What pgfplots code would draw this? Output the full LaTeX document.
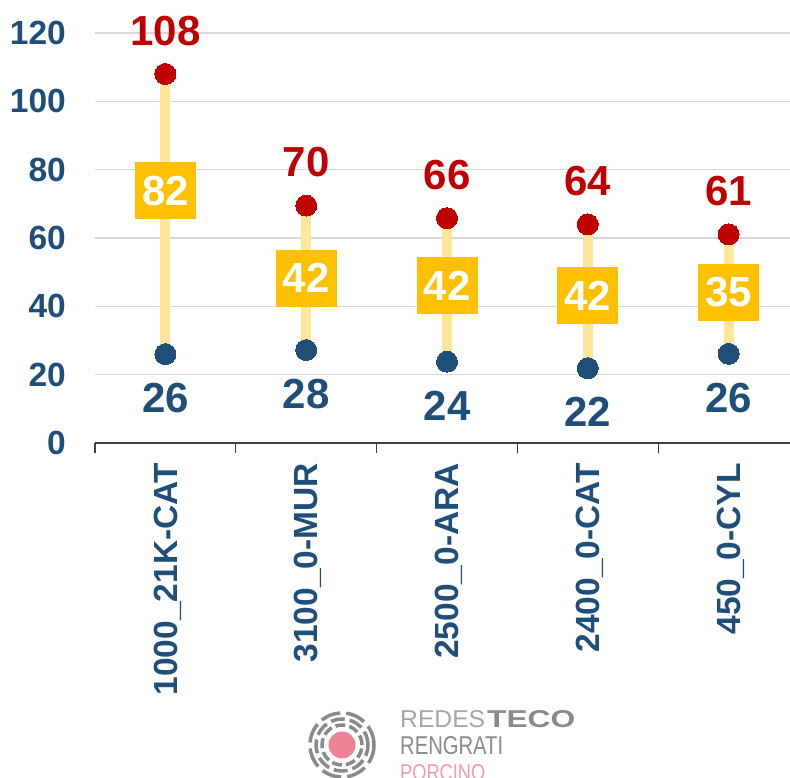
\documentclass[border=0pt]{standalone}
\usepackage{fontspec}
\setmainfont{Liberation Sans}
\usepackage{graphicx}
\usepackage{pgfplots}
\usepackage{pgfplotstable}
\pgfplotsset{compat=1.18}
\definecolor{cblue}{HTML}{1F4E79}
\definecolor{cred}{HTML}{C00000}
\definecolor{cgold}{HTML}{FFC000}
\definecolor{cpale}{HTML}{FFE699}
\definecolor{cgrid}{HTML}{D9D9D9}
\definecolor{caxis}{HTML}{404040}
\definecolor{cpink}{HTML}{EF8394}
\definecolor{clogo}{HTML}{8A8A8A}
\definecolor{clogolight}{HTML}{A6A6A6}
\definecolor{cpinktext}{HTML}{F29BB0}

\pgfplotstableread{
x y label
0 108 108
1 69.5 70
2 65.8 66
3 64.0 64
4 61.1 61
}\maxdata
\pgfplotstableread{
x y label
0 26.0 26
1 27.2 28
2 23.8 24
3 21.9 22
4 26.1 26
}\mindata
\pgfplotstableread{
x y label
0 73.8 82
1 48.2 42
2 46.0 42
3 43.2 42
4 44.1 35
}\diffdata

\newcommand{\bigfont}{\bfseries\fontsize{42}{50}\selectfont}
\newcommand{\tickfont}{\bfseries\fontsize{33.5}{40}\selectfont}

\begin{document}
\begin{tikzpicture}[x=1pt,y=1pt]
\path[use as bounding box] (0,0) rectangle (790,778);
\begin{axis}[
  at={(95pt,335pt)}, anchor=south west,
  width=695pt, height=410pt, scale only axis,
  xmin=-0.5, xmax=4.436, ymin=0, ymax=120,
  clip=false,
  axis x line=bottom, axis y line=left,
  x axis line style={-, caxis, line width=1.2pt},
  y axis line style={draw=none},
  xtick={0,1,2,3,4},
  xticklabels={1000\_21K-CAT, 3100\_0-MUR, 2500\_0-ARA, 2400\_0-CAT, 450\_0-CYL},
  minor xtick={-0.5,0.5,1.5,2.5,3.5},
  major tick length=0pt, minor tick length=10pt, tick align=outside,
  minor tick style={caxis, line width=1.2pt},
  ytick={0,20,40,60,80,100,120},
  ymajorgrids, grid style={cgrid, line width=1.5pt},
  /pgf/number format/assume math mode=true,
  xticklabel style={xshift=9pt, font=\tickfont, text=cblue, rotate=90, anchor=mid east, inner sep=0pt},
  yticklabel style={font=\tickfont, text=cblue, anchor=east, inner sep=0pt},
  xticklabel shift=20pt,
  yticklabel shift=29pt,
]
\addplot[cpale, line width=10pt] coordinates {(0,26.0) (0,108)};
\addplot[cpale, line width=10pt] coordinates {(1,27.2) (1,69.5)};
\addplot[cpale, line width=10pt] coordinates {(2,23.8) (2,65.8)};
\addplot[cpale, line width=10pt] coordinates {(3,21.9) (3,64.0)};
\addplot[cpale, line width=10pt] coordinates {(4,26.1) (4,61.1)};

\addplot[only marks, mark=none, nodes near coords, point meta=explicit symbolic,
  nodes near coords style={anchor=center, fill=cgold, text=white, minimum width=61pt,
  minimum height=57pt, inner sep=0pt, font=\bigfont}]
  table[x=x, y=y, meta=label] {\diffdata};

\addplot[cred, only marks, mark=*, mark size=10.5pt, mark options={fill=cred, draw=none, line width=0pt},
  nodes near coords, point meta=explicit symbolic,
  nodes near coords style={anchor=center, yshift=43pt, text=cred, inner sep=0pt, font=\bigfont}]
  table[x=x, y=y, meta=label] {\maxdata};

\addplot[cblue, only marks, mark=*, mark size=10.5pt, mark options={fill=cblue, draw=none, line width=0pt},
  nodes near coords, point meta=explicit symbolic,
  nodes near coords style={anchor=center, yshift=-44pt, text=cblue, inner sep=0pt, font=\bigfont}]
  table[x=x, y=y, meta=label] {\mindata};
\end{axis}

% logo
\fill[cpink] (342,33) circle (13.5);
\draw[clogo, line width=3.5, dash pattern=on 10pt off 4pt] (342,33) circle (20);
\draw[clogo, line width=3.5, dash pattern=on 14pt off 5pt] (342,33) circle (26);
\draw[clogo, line width=3.5, dash pattern=on 20pt off 6pt] (342,33) circle (32);
\node[anchor=base west, inner sep=0, text=clogolight] at (400,50) {\resizebox{85pt}{17pt}{REDES}};
\node[anchor=base west, inner sep=0, text=clogo] at (487,50) {\resizebox{88pt}{17pt}{\bfseries TECO}};
\node[anchor=base west, inner sep=0, text=clogo] at (400,23) {\resizebox{103pt}{18pt}{RENGRATI}};
\node[anchor=base west, inner sep=0, text=cpinktext] at (400,-3) {\resizebox{85pt}{16pt}{PORCINO}};
\end{tikzpicture}
\end{document}
